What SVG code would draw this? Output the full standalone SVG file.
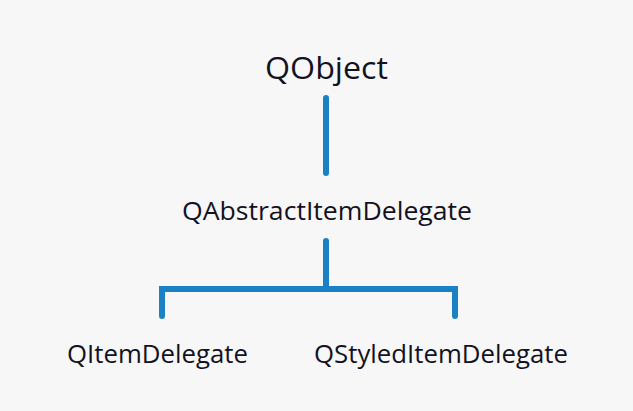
<svg xmlns="http://www.w3.org/2000/svg" width="633" height="411" viewBox="0 0 633 411">
<style>
text{font-family:"Open Sans","Noto Sans","DejaVu Sans",sans-serif;fill:#14121f}
.n{font-size:25px}
.c{stroke:#1a82c4;stroke-width:6;fill:none;stroke-linecap:round;stroke-linejoin:miter}
</style>
<rect width="633" height="411" fill="#f7f7f7"/>
<g id="connectors">
<line class="c" x1="326" y1="98" x2="326" y2="173"/>
<line class="c" x1="326" y1="241" x2="326" y2="288"/>
<path class="c" d="M162 316 V289 H455 V316"/>
</g>
<g id="QObject"><text x="326.5" y="79" text-anchor="middle" font-size="31" textLength="123" lengthAdjust="spacingAndGlyphs">QObject</text></g>
<g id="QAbstractItemDelegate"><text class="n" x="327" y="220" text-anchor="middle" textLength="290" lengthAdjust="spacingAndGlyphs">QAbstractItemDelegate</text></g>
<g id="QItemDelegate"><text class="n" x="157.5" y="363" text-anchor="middle" textLength="181" lengthAdjust="spacingAndGlyphs">QItemDelegate</text></g>
<g id="QStyledItemDelegate"><text class="n" x="441" y="363" text-anchor="middle" textLength="254" lengthAdjust="spacingAndGlyphs">QStyledItemDelegate</text></g>
</svg>
